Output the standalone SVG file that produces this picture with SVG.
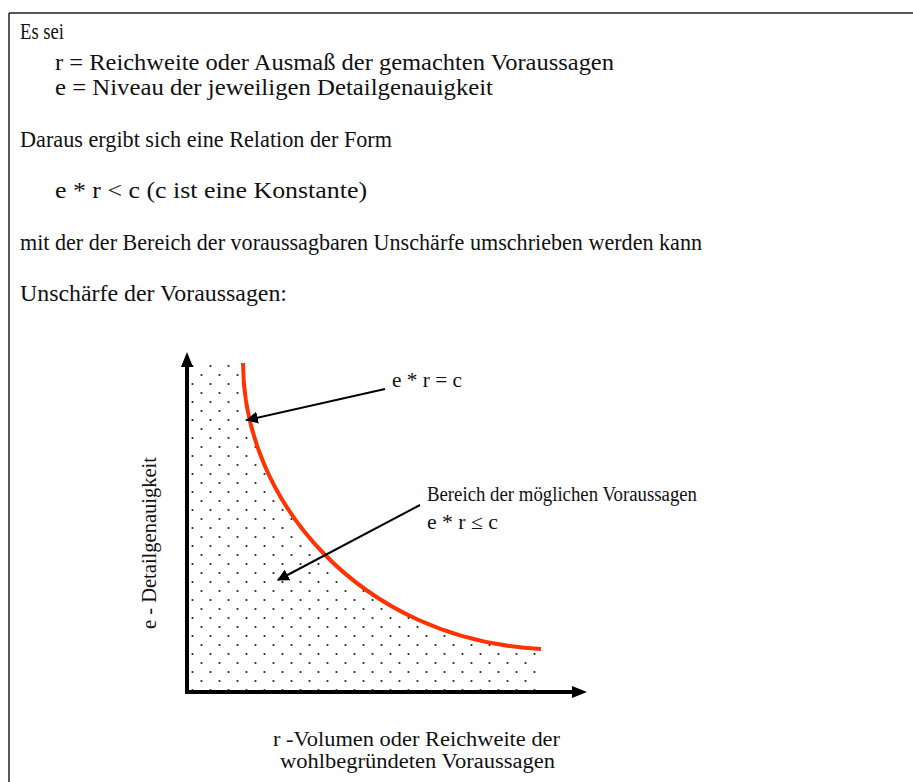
<svg xmlns="http://www.w3.org/2000/svg" width="913" height="782" viewBox="0 0 913 782">
<style>
.t{font-family:"Liberation Serif","Times New Roman",serif;font-size:24px;fill:#111}
.c{font-family:"Liberation Serif","Times New Roman",serif;font-size:20px;fill:#111}
.ax{stroke:#000;stroke-width:4;fill:none}
.pt{stroke:#000;stroke-width:2;fill:none}
</style>
<defs>
<pattern id="dots" patternUnits="userSpaceOnUse" x="188" y="364" width="18" height="18">
<circle cx="4.5" cy="2" r="1.1" fill="#222"/>
<circle cx="13.5" cy="11" r="1.1" fill="#222"/>
</pattern>
<marker id="ah" viewBox="0 0 10 10" refX="9" refY="5" markerWidth="6" markerHeight="6" orient="auto" markerUnits="strokeWidth">
<path d="M0,0 L10,5 L0,10 Z" fill="#000"/>
</marker>
</defs>
<rect width="913" height="782" fill="#fff"/>
<g id="frame">
<line x1="9" y1="13" x2="913" y2="13" stroke="#222" stroke-width="1.5"/>
<line x1="9" y1="13" x2="9" y2="782" stroke="#222" stroke-width="1.5"/>
</g>
<g id="text">
<text class="t" x="20" y="39" textLength="44" lengthAdjust="spacingAndGlyphs">Es sei</text>
<text class="t" x="55" y="70" textLength="559" lengthAdjust="spacingAndGlyphs">r = Reichweite oder Ausmaß der gemachten Voraussagen</text>
<text class="t" x="55" y="95" textLength="438" lengthAdjust="spacingAndGlyphs">e = Niveau der jeweiligen Detailgenauigkeit</text>
<text class="t" x="20" y="147" textLength="372" lengthAdjust="spacingAndGlyphs">Daraus ergibt sich eine Relation der Form</text>
<text class="t" x="55" y="198" textLength="312" lengthAdjust="spacingAndGlyphs">e * r &lt; c (c ist eine Konstante)</text>
<text class="t" x="20" y="250" textLength="682" lengthAdjust="spacingAndGlyphs">mit der der Bereich der voraussagbaren Unschärfe umschrieben werden kann</text>
<text class="t" x="20" y="301" textLength="267" lengthAdjust="spacingAndGlyphs">Unschärfe der Voraussagen:</text>
</g>
<g id="region">
<path d="M188,364 L243,364 C243,500 360,640 541,649 L541,690 L188,690 Z" fill="url(#dots)"/>
</g>
<g id="axes">
<line class="ax" x1="187" y1="692" x2="187" y2="364"/>
<path d="M187,352 L181,367 L193,367 Z" fill="#000"/>
<line class="ax" x1="185" y1="692" x2="574" y2="692"/>
<path d="M587,692 L572,686 L572,698 Z" fill="#000"/>
</g>
<g id="curve">
<path d="M243,363 C243,500 360,640 541,649" fill="none" stroke="#ff3300" stroke-width="4"/>
</g>
<g id="connectors">
<line class="pt" x1="385" y1="389" x2="247" y2="420" marker-end="url(#ah)" stroke-width="1.8"/>
<line class="pt" x1="420" y1="505" x2="278" y2="580" marker-end="url(#ah)" stroke-width="1.8"/>
</g>
<g id="labels">
<text class="c" x="392" y="387" textLength="70" lengthAdjust="spacingAndGlyphs">e * r = c</text>
<text class="c" x="427" y="501" textLength="270" lengthAdjust="spacingAndGlyphs">Bereich der möglichen Voraussagen</text>
<text class="c" x="427" y="529" textLength="71" lengthAdjust="spacingAndGlyphs">e * r ≤ c</text>
<text class="c" x="273" y="746" textLength="287" lengthAdjust="spacingAndGlyphs">r -Volumen oder Reichweite der</text>
<text class="c" x="280" y="768" textLength="275" lengthAdjust="spacingAndGlyphs">wohlbegründeten Voraussagen</text>
<text class="c" transform="translate(156,629) rotate(-90)" x="0" y="0" textLength="172" lengthAdjust="spacingAndGlyphs">e - Detailgenauigkeit</text>
</g>
</svg>
